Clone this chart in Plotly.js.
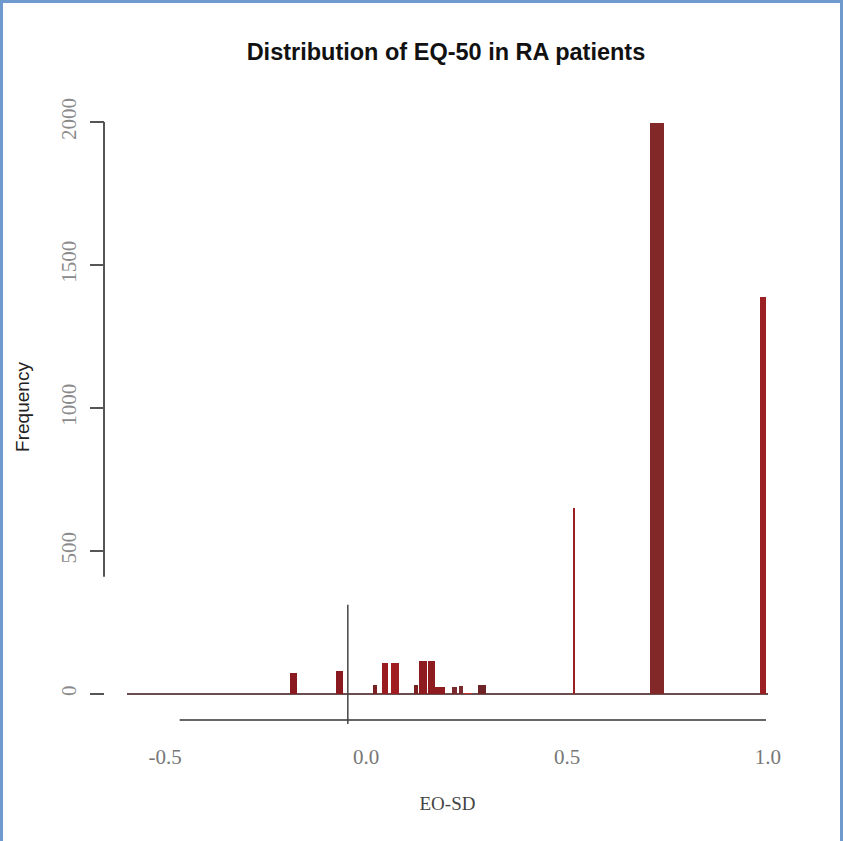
<!DOCTYPE html>
<html>
<head>
<meta charset="utf-8">
<script src="https://cdn.plot.ly/plotly-3.0.1.min.js"></script>
<style>
  html, body { margin: 0; padding: 0; background: #ffffff; }
  #chart { position: absolute; left: 0; top: 0; width: 843px; height: 841px; }
  #frame { position: absolute; left: 0; top: 0; width: 843px; height: 841px; box-sizing: border-box;
           border-left: 3px solid #6e9ace; border-top: 3px solid #6e9ace; border-right: 3px solid #6e9ace;
           pointer-events: none; }
</style>
</head>
<body>
<div id="chart"></div>
<div id="frame"></div>
<script>
// ---- data ----
const binCenters = [-0.180, -0.066, 0.022, 0.047, 0.072, 0.124, 0.142, 0.162, 0.184, 0.219, 0.236, 0.254, 0.289, 0.517, 0.724, 0.988];
const counts     = [74, 80, 30, 108, 108, 30, 115, 115, 25, 25, 28, 5, 30, 651, 1995, 1387];
const xTickVals  = [-0.5, 0.0, 0.5, 1.0];
const xTickText  = ['-0.5', '0.0', '0.5', '1.0'];
const yTickVals  = [0, 500, 1000, 1500, 2000];
const yTickText  = ['0', '500', '1000', '1500', '2000'];

// ---- styles ----
const barWidths = [0.0175, 0.0175, 0.008, 0.015, 0.02, 0.009, 0.02, 0.018, 0.025, 0.012, 0.012, 0.02, 0.02, 0.004, 0.035, 0.015];
const barColors = ['#8a1a1f', '#8a1a1f', '#7a1f22', '#9a1c20', '#a01d22', '#7a1f22', '#8e1b1f', '#8e1b1f', '#8e1b1f', '#7a2a2c', '#7a2a2c', '#c0303a', '#6e2427', '#9a2024', '#822828', '#9a2024'];

const trace = {
  type: 'bar',
  x: binCenters,
  y: counts,
  width: barWidths,
  marker: { color: barColors, line: { width: 0 } },
  hoverinfo: 'x+y'
};

const layout = {
  width: 843, height: 841,
  paper_bgcolor: '#ffffff', plot_bgcolor: '#ffffff',
  margin: { l: 100, r: 75, t: 90, b: 117 },
  showlegend: false,
  bargap: 0,
  title: {
    text: '<b>Distribution of EQ-50 in RA patients</b>',
    x: 0.529, xref: 'container', xanchor: 'center',
    y: 0.938, yref: 'container', yanchor: 'middle',
    font: { family: 'Liberation Sans, Arial, sans-serif', size: 23.5, color: '#111111' }
  },
  xaxis: {
    domain: [0.0404, 1],
    range: [-0.595, 1.0],
    tickvals: xTickVals, ticktext: xTickText,
    ticks: '', showline: false, showgrid: false, zeroline: false,
    ticklabelstandoff: 18,
    tickfont: { family: 'Liberation Serif, DejaVu Serif, serif', size: 21, color: '#777777' },
    title: { text: 'EO-SD', standoff: 28,
             font: { family: 'Liberation Serif, DejaVu Serif, serif', size: 19, color: '#444444' } }
  },
  yaxis: {
    anchor: 'free', position: 0.006, side: 'left',
    range: [-105, 2112],
    tickvals: yTickVals, ticktext: yTickText,
    tickangle: -90,
    ticks: 'outside', ticklen: 14, tickwidth: 2, tickcolor: '#555555',
    showline: false, showgrid: false,
    zeroline: true, zerolinecolor: '#6b4e4f', zerolinewidth: 2,
    ticklabelstandoff: 6,
    tickfont: { family: 'Liberation Serif, DejaVu Serif, serif', size: 21, color: '#8a8a8a' },
    title: { text: 'Frequency', standoff: 20,
             font: { family: 'Liberation Sans, Arial, sans-serif', size: 19, color: '#222222' } }
  },
  shapes: [
    // y axis line (partial, as in the reference)
    { type: 'line', xref: 'paper', yref: 'y', x0: 0.006, x1: 0.006, y0: 410, y1: 2000,
      line: { color: '#555555', width: 2 } },
    // lower x axis line
    { type: 'line', xref: 'x', yref: 'y', x0: -0.464, x1: 0.995, y0: -91, y1: -91,
      line: { color: '#666666', width: 2 } },
    // vertical reference line near zero
    { type: 'line', xref: 'x', yref: 'y', x0: -0.0455, x1: -0.0455, y0: -105, y1: 312,
      line: { color: '#444444', width: 1.5 } }
  ]
};

Plotly.newPlot('chart', [trace], layout, { displayModeBar: false, staticPlot: true });
</script>
</body>
</html>
